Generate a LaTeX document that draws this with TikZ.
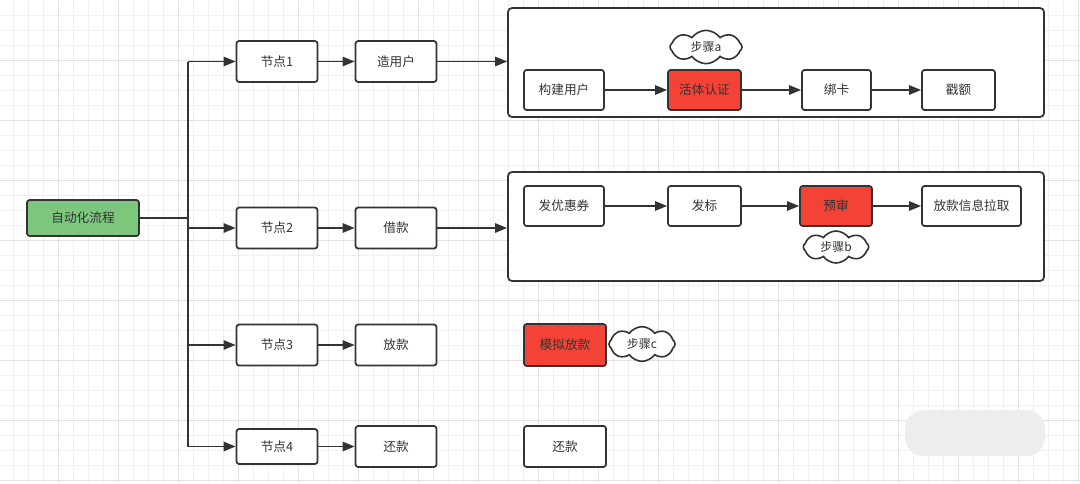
\documentclass[tikz,border=0pt]{standalone}
\usepackage{fontspec}
\setmainfont{Noto Sans CJK SC}
\usetikzlibrary{arrows.meta,shapes.symbols}
\definecolor{linec}{HTML}{333333}
\definecolor{okgreen}{HTML}{7DC67E}
\definecolor{hotred}{HTML}{F44336}
\definecolor{gridminor}{HTML}{F0F0F0}
\definecolor{gridmajor}{HTML}{E2E2E2}
\tikzset{
  box/.style={draw=linec, line width=1.3pt, rounded corners=2pt, fill=white, text=linec,
    minimum width=60.75pt, minimum height=30.75pt, inner sep=0pt, font=\fontsize{9.5}{11}\selectfont},
  hot/.style={box, fill=hotred},
  group/.style={draw=linec, line width=1.3pt, rounded corners=3pt, fill=white, inner sep=0pt},
  note/.style={cloud, cloud puffs=8, cloud puff arc=110, aspect=2, draw=linec, line width=1.2pt, fill=white, text=linec,
    inner sep=0pt, minimum width=50pt, minimum height=25pt, font=\fontsize{9}{10}\selectfont},
  arr/.style={draw=linec, line width=1.3pt, -{Triangle[length=9pt,width=7pt]}},
  link/.style={draw=linec, line width=1.3pt}
}
\begin{document}
\begin{tikzpicture}[x=0.75pt,y=-0.75pt]
\useasboundingbox (0,0) rectangle (1080,483);
\fill[white] (0,0) rectangle (1080,483);
\foreach \gx in {13,28,...,1078} \draw[gridminor,line width=0.6pt] (\gx,0) -- (\gx,483);
\foreach \gy in {15,30,...,480} \draw[gridminor,line width=0.6pt] (0,\gy) -- (1080,\gy);
\foreach \gx in {58,118,...,1078} \draw[gridmajor,line width=0.7pt] (\gx,0) -- (\gx,483);
\foreach \gy in {60,120,...,480} \draw[gridmajor,line width=0.7pt] (0,\gy) -- (1080,\gy);
\fill[black!7, rounded corners=14pt] (905,410) rectangle (1045,456);

\node[box, fill=okgreen, minimum width=84pt, minimum height=27pt] (root) at (83,218) {自动化流程};
\node[box] (n1) at (277,61.5) {节点1};
\node[box] (zao) at (396,61.5) {造用户};
\node[box] (n2) at (277,228) {节点2};
\node[box] (jie) at (396,228) {借款};
\node[box] (n3) at (277,345) {节点3};
\node[box] (fang) at (396,345) {放款};
\node[box, minimum height=26.25pt] (n4) at (277,446.5) {节点4};
\node[box] (huan) at (396,446.5) {还款};

\node[group, minimum width=402pt, minimum height=81.75pt] (grp1) at (776,62.5) {};
\node[box, minimum width=60pt, minimum height=30pt] (gouj) at (564,90) {构建用户};
\node[hot, minimum width=54.75pt, minimum height=30pt] (huot) at (704.5,90) {活体认证};
\node[box, minimum width=51.75pt, minimum height=30pt] (bang) at (836.5,90) {绑卡};
\node[box, minimum width=54.75pt, minimum height=30pt] (chuo) at (958.5,90) {戳额};
\node[note, minimum width=54pt] (sa) at (706,47) {步骤a};

\node[group, minimum width=402pt, minimum height=81.75pt] (grp2) at (776,226.5) {};
\node[box, minimum width=60pt, minimum height=30pt] (quan) at (564,206) {发优惠券};
\node[box, minimum width=54.75pt, minimum height=30pt] (biao) at (704.5,206) {发标};
\node[hot, minimum width=54pt, minimum height=30pt] (yus) at (836,206) {预审};
\node[box, minimum width=74.25pt, minimum height=30pt] (laqu) at (971.5,206) {放款信息拉取};
\node[note, minimum width=49pt, minimum height=24pt] (sb) at (836,247) {步骤b};

\node[hot, minimum width=61.5pt, minimum height=31.5pt] (moni) at (565,345) {模拟放款};
\node[note, minimum width=49.5pt, minimum height=26pt] (sc) at (642,344) {步骤c};
\node[box, minimum width=61.5pt] (huan2) at (565,446.5) {还款};

\coordinate (trunk) at (188,218);
\draw[link] (root.east) -- (trunk);
\draw[link] (trunk |- n1) -- (trunk |- n4);
\foreach \k in {1,...,4} \draw[arr] (trunk |- n\k) -- (n\k.west);
\draw[arr] (n1) -- (zao);
\draw[arr] (n2) -- (jie);
\draw[arr] (n3) -- (fang);
\draw[arr] (n4) -- (huan);
\draw[arr] (zao.east) -- (zao.east -| grp1.west);
\draw[arr] (jie.east) -- (jie.east -| grp2.west);
\draw[arr] (gouj) -- (huot);
\draw[arr] (huot) -- (bang);
\draw[arr] (bang) -- (chuo);
\draw[arr] (quan) -- (biao);
\draw[arr] (biao) -- (yus);
\draw[arr] (yus) -- (laqu);
\end{tikzpicture}
\end{document}
